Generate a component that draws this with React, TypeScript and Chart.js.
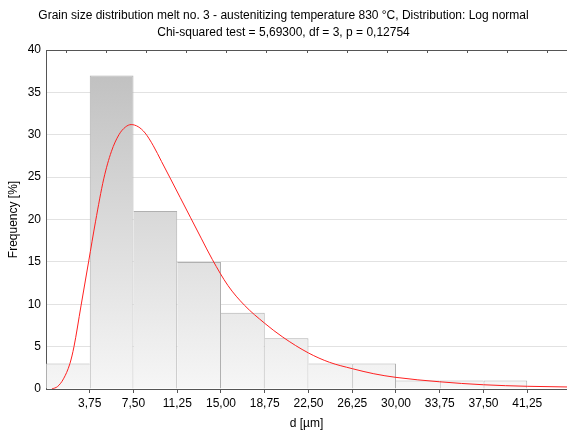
import React, { useEffect, useRef } from "react";
import { Chart, registerables } from "chart.js";

Chart.register(...registerables);

const titleLines = [
  "Grain size distribution melt no. 3 - austenitizing temperature 830 °C, Distribution: Log normal",
  "Chi-squared test = 5,69300, df = 3, p = 0,12754",
];
const xTitle = "d [µm]";
const yTitle = "Frequency [%]";

const binStarts = [0, 3.75, 7.5, 11.25, 15, 18.75, 22.5, 26.25, 30, 33.75, 37.5];
const binWidth = 3.75;
const frequencies = [3, 37, 21, 15, 9, 6, 3, 3, 1, 1, 1];

const fitX = [0.5, 1.0, 1.5, 2.05, 2.4, 3.0, 3.65, 4.25, 4.95, 5.6, 6.25, 6.8, 7.3, 7.9, 8.5, 9.2, 9.9, 10.6, 11.5, 12.4, 13.3, 14.25, 15.6, 17.0, 18.75, 20.3, 22.5, 24.3, 26.25, 28.1, 30.0, 33.75, 37.5, 41.25, 44.66];
const fitY = [0, 0.3, 1.2, 3.0, 5.0, 9.8, 15.0, 19.8, 24.8, 28.0, 30.0, 30.9, 31.2, 30.95, 30.2, 28.7, 26.85, 25.0, 22.6, 20.2, 17.8, 15.3, 12.2, 9.9, 7.75, 6.12, 4.25, 3.15, 2.4, 1.8, 1.37, 0.85, 0.5, 0.32, 0.24];

const xTickValues = [3.75, 7.5, 11.25, 15, 18.75, 22.5, 26.25, 30, 33.75, 37.5, 41.25];
const xTickLabels = ["3,75", "7,50", "11,25", "15,00", "18,75", "22,50", "26,25", "30,00", "33,75", "37,50", "41,25"];
const xMin = 0;
const xMax = 44.66;
const yMin = 0;
const yMax = 40;
const yStep = 5;
const topTickCount = 13;

const FONT = "'Liberation Sans', Arial, sans-serif";
const AXIS = "#555555";

const frameTicks = {
  id: "frameTicks",
  afterDraw(chart: any) {
    const { ctx, chartArea: a } = chart;
    ctx.save();
    ctx.strokeStyle = AXIS;
    ctx.lineWidth = 1;
    ctx.beginPath();
    for (let i = 0; i < topTickCount; i++) {
      const x = Math.round(a.left + (i + 0.5) * (a.width / topTickCount)) + 0.5;
      ctx.moveTo(x, a.top);
      ctx.lineTo(x, a.top + 3);
    }
    ctx.stroke();
    ctx.restore();
  },
};

export default function App() {
  const ref = useRef<HTMLCanvasElement | null>(null);

  useEffect(() => {
    document.body.style.margin = "0";
    const canvas = ref.current;
    if (!canvas) return;
    const n = frequencies.length;
    const chart = new Chart(canvas, {
      type: "bar",
      data: {
        datasets: [
          {
            type: "line",
            data: fitX.map((x, i) => ({ x, y: fitY[i] })),
            borderColor: "#ff2020",
            borderWidth: 1,
            pointRadius: 0,
            cubicInterpolationMode: "monotone",
            fill: false,
            order: 0,
          } as any,
          {
            type: "bar",
            data: binStarts.map((s, i) => ({ x: s + binWidth / 2, y: frequencies[i] })),
            backgroundColor: (c: any) => {
              const area = c.chart.chartArea;
              if (!area) return "#dddddd";
              const g = c.chart.ctx.createLinearGradient(0, area.top, 0, area.bottom);
              g.addColorStop(0, "#bdbdbd");
              g.addColorStop(1, "#f6f6f6");
              return g;
            },
            borderColor: "#b0b0b0",
            borderWidth: (c: any) => {
              const i = c.dataIndex;
              const v = frequencies[i];
              const prev = i > 0 ? frequencies[i - 1] : -1;
              const next = i < n - 1 ? frequencies[i + 1] : -1;
              return { top: 1, left: v >= prev ? 1 : 0, right: v > next ? 1 : 0, bottom: 0 };
            },
            borderSkipped: false,
            inflateAmount: 0,
            barPercentage: 1,
            categoryPercentage: 1,
            order: 1,
          } as any,
        ],
      },
      options: {
        responsive: false,
        animation: false,
        events: [],
        layout: { padding: 0 },
        plugins: {
          legend: { display: false },
          tooltip: { enabled: false },
          title: {
            display: true,
            text: titleLines,
            color: "#000",
            font: { family: FONT, size: 12, weight: "normal", lineHeight: 17 / 12 },
            padding: { top: 7.5, bottom: 8.5 },
          },
        },
        scales: {
          x: {
            type: "linear",
            min: xMin,
            max: xMax,
            offset: false,
            afterBuildTicks: (s: any) => {
              s.ticks = xTickValues.map((v) => ({ value: v }));
            },
            afterFit: (s: any) => {
              s.height = 43;
            },
            ticks: {
              autoSkip: false,
              maxRotation: 0,
              color: "#000",
              padding: 3,
              font: { family: FONT, size: 12 },
              callback: (v: any) => {
                const i = xTickValues.findIndex((t) => Math.abs(t - v) < 1e-6);
                return i >= 0 ? xTickLabels[i] : "";
              },
            },
            grid: { drawOnChartArea: false, drawTicks: true, tickLength: 4, color: AXIS, offset: false },
            border: { display: true, color: AXIS, width: 1 },
            title: {
              display: true,
              text: xTitle,
              color: "#000",
              font: { family: FONT, size: 12 },
              padding: { top: 0, bottom: 1.5 },
            },
          },
          y: {
            type: "linear",
            min: yMin,
            max: yMax,
            ticks: {
              stepSize: yStep,
              color: "#000",
              padding: 5,
              font: { family: FONT, size: 12 },
            },
            afterFit: (s: any) => {
              s.width = 46;
            },
            grid: {
              drawTicks: false,
              color: (c: any) => (c.tick && c.tick.value === yMax ? AXIS : "#e2e2e2"),
            },
            border: { display: true, color: AXIS, width: 1 },
            title: {
              display: true,
              text: yTitle,
              color: "#000",
              font: { family: FONT, size: 12 },
              padding: { top: 6.5, bottom: 0 },
            },
          },
        },
      } as any,
      plugins: [frameTicks],
    });
    return () => chart.destroy();
  }, []);

  return (
    <div style={{ position: "fixed", left: 0, top: 0, width: 567, height: 432 }}>
      <canvas ref={ref} width={567} height={432} style={{ display: "block" }} />
    </div>
  );
}
